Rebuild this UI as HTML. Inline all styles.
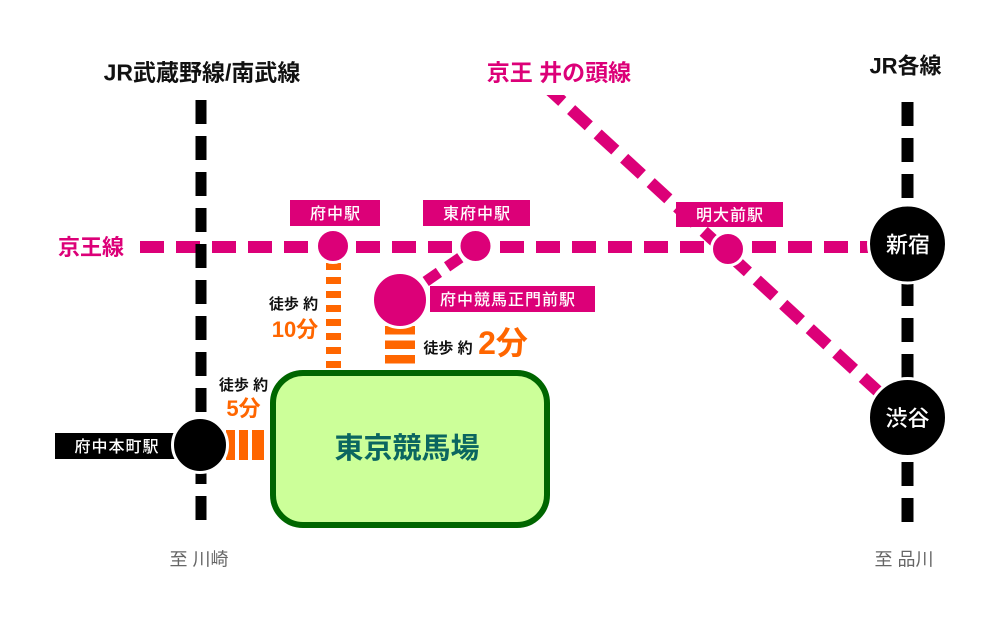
<!DOCTYPE html>
<html>
<head>
<meta charset="utf-8">
<style>
html,body{margin:0;padding:0;background:#fff;width:1000px;height:620px;overflow:hidden}
svg{display:block}
text{font-family:"Liberation Sans","Noto Sans CJK JP",sans-serif}
</style>
</head>
<body>
<svg width="1000" height="620" viewBox="0 0 1000 620" xmlns="http://www.w3.org/2000/svg">
<defs>
<clipPath id="c"><rect x="0" y="95" width="1000" height="525"/></clipPath>
</defs>
<rect x="0" y="0" width="1000" height="620" fill="#fff"/>

<!-- Headings -->
<text x="202" y="80.5" font-size="23" font-weight="700" fill="#111" text-anchor="middle">JR武蔵野線/南武線</text>
<text x="559" y="80.5" font-size="23" font-weight="700" fill="#dc0078" text-anchor="middle">京王 井の頭線</text>
<text x="905.5" y="73.5" font-size="22" font-weight="700" fill="#111" text-anchor="middle">JR各線</text>
<text x="91" y="255" font-size="22" font-weight="700" fill="#dc0078" text-anchor="middle">京王線</text>

<!-- Keio line -->
<line x1="140" y1="247" x2="884" y2="247" stroke="#dc0078" stroke-width="12" stroke-dasharray="24 12"/>
<!-- Inokashira line -->
<line x1="544.6" y1="85.2" x2="907" y2="418" stroke="#dc0078" stroke-width="12" stroke-dasharray="24 12" clip-path="url(#c)"/>
<!-- Higashi-Fuchu connector -->
<line x1="460.3" y1="257.7" x2="447.1" y2="266.8" stroke="#dc0078" stroke-width="11"/>
<line x1="438.9" y1="272.4" x2="425.7" y2="281.5" stroke="#dc0078" stroke-width="11"/>

<!-- JR lines -->
<line x1="201" y1="100" x2="201" y2="520" stroke="#000" stroke-width="11" stroke-dasharray="24 12"/>
<line x1="907.5" y1="102" x2="907.5" y2="522" stroke="#000" stroke-width="12" stroke-dasharray="24 12"/>

<!-- Orange walking paths -->
<g fill="#ff6600">
<rect x="326" y="263" width="15" height="7"/>
<rect x="326" y="277" width="15" height="7"/>
<rect x="326" y="291" width="15" height="7"/>
<rect x="326" y="305" width="15" height="7"/>
<rect x="326" y="319" width="15" height="7"/>
<rect x="326" y="333" width="15" height="7"/>
<rect x="326" y="347" width="15" height="7"/>
<rect x="326" y="361" width="15" height="7"/>
<rect x="385" y="326" width="30" height="8.5"/>
<rect x="385" y="340.5" width="30" height="8.5"/>
<rect x="385" y="355" width="30" height="8.5"/>
<rect x="226" y="430" width="9" height="30"/>
<rect x="239" y="430" width="9" height="30"/>
<rect x="252" y="430" width="12" height="30"/>
</g>

<!-- Racecourse -->
<rect x="273" y="373" width="274" height="152" rx="30" ry="30" fill="#ccff99" stroke="#006600" stroke-width="6"/>
<text x="407" y="458" font-size="29" font-weight="700" fill="#0b6660" text-anchor="middle">東京競馬場</text>

<!-- Walking labels -->
<text x="293.5" y="309" font-size="15" font-weight="700" fill="#111" text-anchor="middle">徒歩 約</text>
<text x="295" y="337" font-size="22" font-weight="700" fill="#ff6600" text-anchor="middle">10分</text>
<text x="448" y="353" font-size="15" font-weight="700" fill="#111" text-anchor="middle">徒歩 約</text>
<text x="503" y="354" font-size="32" font-weight="700" fill="#ff6600" text-anchor="middle">2分</text>
<text x="243.5" y="390" font-size="15" font-weight="700" fill="#111" text-anchor="middle">徒歩 約</text>
<text x="243.5" y="416" font-size="22" font-weight="700" fill="#ff6600" text-anchor="middle">5分</text>

<!-- Station label boxes -->
<rect x="290" y="200" width="90" height="26" fill="#dc0078"/>
<text x="335.5" y="219" font-size="16" font-weight="500" fill="#fff" text-anchor="middle" letter-spacing="1">府中駅</text>
<rect x="423" y="200" width="107" height="26" fill="#dc0078"/>
<text x="477" y="219" font-size="16" font-weight="500" fill="#fff" text-anchor="middle" letter-spacing="1">東府中駅</text>
<rect x="676" y="202" width="107" height="25" fill="#dc0078"/>
<text x="730" y="220.5" font-size="16" font-weight="500" fill="#fff" text-anchor="middle" letter-spacing="1">明大前駅</text>
<rect x="430" y="286" width="165" height="26" fill="#dc0078"/>
<text x="508" y="305" font-size="16" font-weight="500" fill="#fff" text-anchor="middle" letter-spacing="1">府中競馬正門前駅</text>
<rect x="55" y="433" width="130" height="26" fill="#000"/>
<text x="117" y="452" font-size="16" font-weight="500" fill="#fff" text-anchor="middle" letter-spacing="1">府中本町駅</text>

<!-- Station circles -->
<circle cx="333" cy="246" r="16.5" fill="#dc0078" stroke="#fff" stroke-width="3"/>
<circle cx="475.5" cy="246" r="16.5" fill="#dc0078" stroke="#fff" stroke-width="3"/>
<circle cx="728" cy="249" r="16.5" fill="#dc0078" stroke="#fff" stroke-width="3"/>
<circle cx="400" cy="300" r="27.5" fill="#dc0078" stroke="#fff" stroke-width="3"/>
<circle cx="200" cy="445" r="27.5" fill="#000" stroke="#fff" stroke-width="3"/>
<circle cx="907.5" cy="244" r="39" fill="#000" stroke="#fff" stroke-width="3"/>
<circle cx="907.5" cy="417.5" r="39" fill="#000" stroke="#fff" stroke-width="3"/>
<text x="908" y="252.5" font-size="22" font-weight="500" fill="#fff" text-anchor="middle">新宿</text>
<text x="907.5" y="426" font-size="22" font-weight="500" fill="#fff" text-anchor="middle">渋谷</text>

<!-- Destinations -->
<text x="199" y="565.5" font-size="18" fill="#666" text-anchor="middle">至 川崎</text>
<text x="904" y="565.5" font-size="18" fill="#666" text-anchor="middle">至 品川</text>
</svg>
</body>
</html>
